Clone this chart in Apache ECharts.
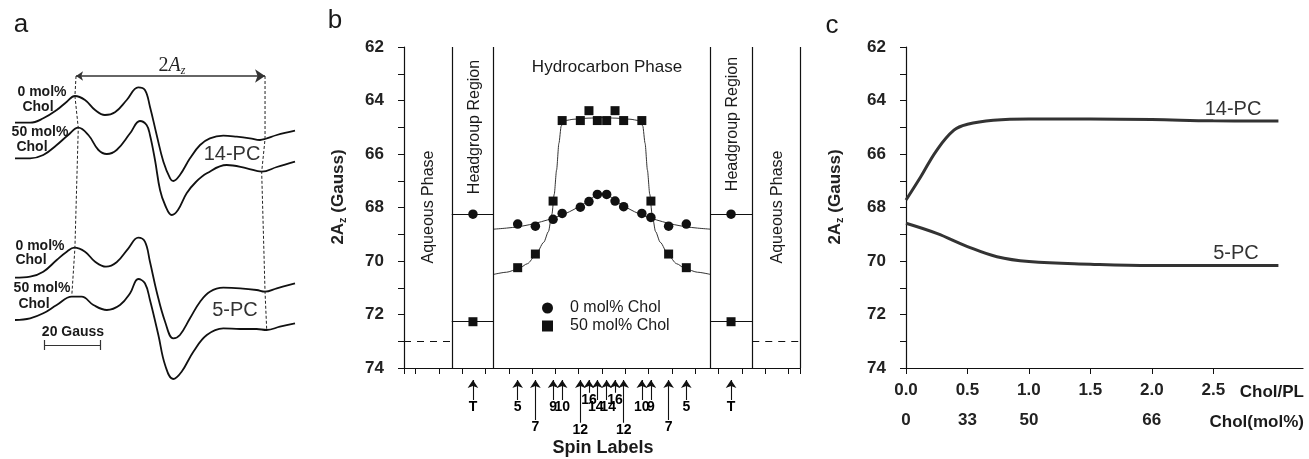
<!DOCTYPE html>
<html>
<head>
<meta charset="utf-8">
<script src="https://cdn.jsdelivr.net/npm/echarts@6/dist/echarts.min.js"></script>
<style>
html, body { margin: 0; padding: 0; background: #fff; }
#main { width: 1309px; height: 459px; }
</style>
</head>
<body>
<div id="main"></div>
<script>
// ---------- panel a : EPR spectra, [field (Gauss), signal (a.u.)] ----------
var spec14Chol0 = [[0,0],[5.4,0],[10.1,4.4],[14.9,12.7],[18.5,21],[21.4,26.7],[25,22.7],[28.6,12.7],[32.1,7.7],[35.7,10.4],[39.9,22.7],[44,35.4],[46.4,32.7],[48.2,16],[50.6,-12.3],[53,-39],[55.4,-55.6],[56.5,-58.3],[58.9,-52.3],[62.5,-35.6],[66.1,-22.3],[69.6,-15.6],[74.4,-13],[79.2,-14],[83.9,-15.6],[87.5,-17.3],[89.3,-16.3],[93.5,-12.3],[100,-8]];
var spec14Chol50 = [[0,0],[5.4,0],[10.1,3.3],[14.9,13.3],[19,23.3],[22.6,30.6],[26.2,23.3],[29.8,8.3],[32.8,4.3],[36.3,8.3],[41.1,25],[44.6,37.3],[47,33.3],[48.2,23.3],[50,-1.7],[51.8,-31.7],[53.6,-46.7],[56,-56.7],[58.2,-51.7],[61.3,-35],[64.6,-23.7],[68.5,-15],[75.6,-6.7],[82.8,-10],[88.1,-13.4],[93.5,-8.7],[100,-3.4]];
var spec5Chol0 = [[0,0],[5.4,1],[10.1,6],[14.9,17.7],[18.5,26],[21.2,30],[25,26],[28.6,16],[32.5,11],[36.3,15.4],[40.5,29.4],[44,40],[46.4,36],[48.2,16],[50.6,-14],[53.6,-44],[56.5,-60.6],[58.9,-57.3],[62.5,-40.6],[66.1,-24],[69.6,-14],[74.4,-10],[80.4,-10.6],[86.3,-12.3],[89.3,-14],[93.5,-10.6],[100,-5.6]];
var spec5Chol50 = [[0,0],[5.4,1.7],[10.1,6.7],[14.9,15],[20.3,23.3],[23.8,23.3],[28,15],[32.8,10],[37.5,15],[41.1,26.7],[44,41],[46.4,36.7],[48.2,20],[51.2,-15],[53.6,-45],[56.5,-59],[59.5,-51.7],[63.7,-31.7],[68.5,-15],[74.4,-8.3],[80.4,-9],[86.3,-9],[89.9,-10],[94.6,-6.7],[100,-3.3]];
var specOffsets = [277.3, 241.7, 122.3, 80];
var lowFieldMarks = [[21.8,324],[21.4,304],[22.6,272],[21.4,152],[20.3,105]];
var highFieldMarks = [[89.3,324],[89.3,261],[88.1,228],[89.3,108],[89.9,70]];
var scaleBarGauss = [10.4, 30.4];

// ---------- panel b : 2Az profile across the bilayer ----------
var spinLabels = ['T','5','7','9','10','12','16','14','14','16','12','10','9','7','5','T'];
var spinPos = [-5.54,-3.62,-2.86,-2.1,-1.71,-0.93,-0.56,-0.2,0.2,0.56,0.93,1.71,2.1,2.86,3.62,5.54];
var azChol0 = [68.25,68.62,68.70,68.44,68.22,67.99,67.78,67.51,67.51,67.76,67.97,68.22,68.37,68.70,68.62,68.25];
var azChol50 = [72.27,70.25,69.74,67.76,64.75,64.75,64.38,64.75,64.75,64.38,64.75,64.75,67.76,69.74,70.25,72.27];
var fit0Pos = [-4.65,-4.1,-3.6,-3.1,-2.6,-2.1,-1.6,-1.2,-0.8,-0.4,0,0.4,0.8,1.2,1.6,2.1,2.6,3.1,3.6,4.1,4.65];
var fit0Az = [68.81,68.77,68.72,68.64,68.53,68.40,68.24,68.07,67.87,67.62,67.47,67.62,67.87,68.07,68.24,68.40,68.53,68.64,68.72,68.77,68.81];
var fit50Pos = [-4.65,-4.1,-3.6,-3.2,-2.86,-2.5,-2.3,-2.15,-2.05,-1.95,-1.85,-1.75,-1.6,-1.2,-0.6,0,0.6,1.2,1.6,1.75,1.85,1.95,2.05,2.15,2.3,2.5,2.86,3.2,3.6,4.1,4.65];
var fit50Az = [70.5,70.42,70.3,70.1,69.8,69.3,68.9,68.25,67.5,66.6,65.6,64.95,64.75,64.7,64.66,64.64,64.66,64.7,64.75,64.95,65.6,66.6,67.5,68.25,68.9,69.3,69.8,70.1,70.3,70.42,70.5];
var regionEdges = [-6.45, -4.65, 4.65, 6.45];
var aqueousAz = 73;
var xTicksB = [-8.5,-8,-7,-6,-5,-4,-3,-2,-1,0,1,2,3,4,5,6,7,8,8.5];

// ---------- panel c : 2Az vs cholesterol ----------
var cholPL14 = [0,0.12,0.25,0.39,0.5,0.71,1.0,1.5,2.0,2.5,3.03];
var az14PC = [67.72,66.85,65.86,65.11,64.89,64.74,64.69,64.69,64.71,64.76,64.77];
var cholPL5 = [0,0.25,0.5,0.74,1.0,1.5,2.0,2.5,3.03];
var az5PC = [68.59,68.97,69.46,69.84,70.02,70.12,70.17,70.17,70.17];
var cholPLTicks = [0,0.5,1,1.5,2,2.5];
var molPctAt = [0,0.5,1,2];
var molPctLabels = ['0','33','50','66'];

var INK = '#111';
var FONT = 'Liberation Sans, Arial, sans-serif';

function stack(spec, k) {
	return spec.map(function (p) { return [p[0], specOffsets[k] + p[1]]; });
}
function zip(a, b) {
	return a.map(function (v, i) { return [v, b[i]]; });
}
// arrow length below the axis depends on which row its label sits in
function arrowLen(l) {
	if (l === '16') return 12.7;
	if (l === '7') return 40;
	if (l === '12') return 42.7;
	return 20;
}

var specLine = { width: 1.8, color: INK };
var spectra = [spec14Chol0, spec14Chol50, spec5Chol0, spec5Chol50].map(function (s, k) {
	return {
		type: 'line', xAxisIndex: 0, yAxisIndex: 0, data: stack(s, k),
		smooth: 0.4, showSymbol: false, lineStyle: specLine, silent: true
	};
});

var arrowData = spinPos.map(function (u, i) {
	return { coords: [[u, 10 + arrowLen(spinLabels[i])], [u, 10]] };
});
var arrowLabels = spinPos.map(function (u, i) {
	var l = spinLabels[i];
	var dx = l === '14' ? (u < 0 ? -1.5 : 1.5) : 0;
	return { value: [u, 10 + arrowLen(l) + 7], name: l, label: { offset: [dx, 0] } };
});

var boundaryMarks = regionEdges.concat([8.5]).map(function (v) { return { xAxis: v }; });
var headgroupSegs = [];
[azChol0[0], azChol50[0]].forEach(function (y) {
	headgroupSegs.push([{ coord: [regionEdges[0], y] }, { coord: [regionEdges[1], y] }]);
	headgroupSegs.push([{ coord: [regionEdges[2], y] }, { coord: [regionEdges[3], y] }]);
});
var aqueousSegs = [
	[{ coord: [-8.5, aqueousAz], lineStyle: { type: [7, 6] } }, { coord: [regionEdges[0], aqueousAz] }],
	[{ coord: [regionEdges[3], aqueousAz], lineStyle: { type: [7, 6] } }, { coord: [8.5, aqueousAz] }]
];

function azAxis(grid) {
	return {
		gridIndex: grid, type: 'value', min: 62, max: 74, interval: 2, inverse: true,
		axisLine: { show: true, onZero: false, lineStyle: { color: INK, width: 1.2 } },
		axisTick: { show: true, length: 6, lineStyle: { color: INK } },
		minorTick: { show: true, splitNumber: 2, length: 6, lineStyle: { color: INK } },
		axisLabel: { fontSize: 17, fontWeight: 'bold', color: '#222', margin: 20, fontFamily: FONT },
		splitLine: { show: false }
	};
}

var azTitleRich = {
	b: { fontSize: 17, fontWeight: 'bold', fill: '#222', fontFamily: FONT },
	s: { fontSize: 11, fontWeight: 'bold', fill: '#222', fontFamily: FONT, padding: [9, 0, 0, 0] }
};
function yTitle(x, y) {
	return {
		type: 'text', x: x, y: y, rotation: Math.PI / 2,
		style: { text: '{b|2A}{s|z}{b| (Gauss)}', rich: azTitleRich, align: 'center', verticalAlign: 'middle' }
	};
}
function txt(s, x, y, size, opt) {
	opt = opt || {};
	return {
		type: 'text', x: x, y: y, rotation: opt.rot || 0,
		style: {
			text: s, fontSize: size, fontFamily: opt.family || FONT, fontWeight: opt.bold ? 'bold' : 'normal',
			fill: opt.color || '#1a1a1a', align: opt.align || 'center', verticalAlign: 'middle'
		}
	};
}

var option = {
	animation: false,
	backgroundColor: '#fff',
	textStyle: { fontFamily: FONT },
	grid: [
		{ left: 15, top: 0, width: 280, height: 400 },
		{ left: 404, top: 47, width: 396, height: 321 },
		{ left: 404, top: 370, width: 396, height: 70 },
		{ left: 906, top: 47, width: 397, height: 321 }
	],
	xAxis: [
		{ gridIndex: 0, type: 'value', min: 0, max: 100, show: false },
		{
			gridIndex: 1, type: 'value', min: -8.5, max: 8.5,
			axisLine: { show: true, onZero: false, lineStyle: { color: INK, width: 1.2 } },
			axisTick: { show: true, length: 6, customValues: xTicksB, lineStyle: { color: INK } },
			axisLabel: { show: false }, splitLine: { show: false }
		},
		{ gridIndex: 2, type: 'value', min: -8.5, max: 8.5, show: false },
		{
			gridIndex: 3, type: 'value', min: 0, max: 3.23,
			axisLine: { show: true, onZero: false, lineStyle: { color: INK, width: 1.2 } },
			axisTick: { show: true, length: 6, customValues: cholPLTicks, lineStyle: { color: INK } },
			axisLabel: {
				customValues: cholPLTicks, fontSize: 17, fontWeight: 'bold', color: '#222', margin: 14,
				formatter: function (v) { return v.toFixed(1); }
			},
			splitLine: { show: false }
		},
		{
			gridIndex: 3, type: 'value', min: 0, max: 3.23, position: 'bottom', offset: 30,
			axisLine: { show: false, onZero: false }, axisTick: { show: false },
			axisLabel: {
				customValues: molPctAt, fontSize: 17, fontWeight: 'bold', color: '#222', margin: 14,
				formatter: function (v) { return molPctLabels[molPctAt.indexOf(v)]; }
			},
			splitLine: { show: false }
		}
	],
	yAxis: [
		{ gridIndex: 0, type: 'value', min: 0, max: 400, show: false },
		azAxis(1),
		{ gridIndex: 2, type: 'value', min: 0, max: 70, inverse: true, show: false },
		azAxis(3)
	],
	legend: {
		orient: 'vertical', left: 537, top: 295, itemWidth: 11, itemHeight: 11, itemGap: 2,
		textStyle: { fontSize: 16, color: '#1a1a1a', padding: [0, 0, 0, 12] },
		data: [{ name: '0 mol% Chol', icon: 'circle' }, { name: '50 mol% Chol', icon: 'rect' }],
		selectedMode: false
	},
	graphic: [
		txt('a', 21, 25, 26),
		txt('b', 335, 21, 26),
		txt('c', 832, 26, 26),
		// panel a annotations
		txt('0 mol%', 42, 92, 14, { bold: true }),
		txt('Chol', 38, 107, 14, { bold: true }),
		txt('50 mol%', 40, 132, 14, { bold: true }),
		txt('Chol', 32, 147, 14, { bold: true }),
		txt('0 mol%', 40, 246, 14, { bold: true }),
		txt('Chol', 31, 260, 14, { bold: true }),
		txt('50 mol%', 42, 288, 14, { bold: true }),
		txt('Chol', 34, 304, 14, { bold: true }),
		txt('14-PC', 232, 154, 20, { color: '#333' }),
		txt('5-PC', 235, 310, 20, { color: '#333' }),
		txt('20 Gauss', 73, 332, 14, { bold: true }),
		{
			type: 'text', x: 172, y: 66,
			style: {
				text: '{n|2}{a|A}{s|z}', align: 'center', verticalAlign: 'middle',
				rich: {
					n: { fontSize: 20, fontFamily: 'Liberation Serif', fill: '#222' },
					a: { fontSize: 20, fontFamily: 'Liberation Serif', fontStyle: 'italic', fill: '#222' },
					s: { fontSize: 12, fontFamily: 'Liberation Serif', fontStyle: 'italic', fill: '#222', padding: [10, 0, 0, 0] }
				}
			}
		},
		// panel b annotations
		txt('Hydrocarbon Phase', 607, 67, 17),
		txt('Headgroup Region', 475, 127, 16, { rot: Math.PI / 2 }),
		txt('Headgroup Region', 733, 124, 16, { rot: Math.PI / 2 }),
		txt('Aqueous Phase', 429, 207, 16, { rot: Math.PI / 2 }),
		txt('Aqueous Phase', 778, 207, 16, { rot: Math.PI / 2 }),
		txt('Spin Labels', 603, 448, 18, { bold: true }),
		yTitle(338, 197),
		// panel c annotations
		yTitle(835, 197),
		txt('Chol/PL', 1304, 392, 17, { bold: true, align: 'right' }),
		txt('Chol(mol%)', 1304, 422, 17, { bold: true, align: 'right' }),
		txt('14-PC', 1233, 109, 20, { color: '#333' }),
		txt('5-PC', 1236, 253, 20, { color: '#333' })
	],
	series: spectra.concat([
		{
			type: 'line', xAxisIndex: 0, yAxisIndex: 0, data: lowFieldMarks, showSymbol: false, silent: true,
			lineStyle: { width: 1, color: '#222', type: [3, 2] }
		},
		{
			type: 'line', xAxisIndex: 0, yAxisIndex: 0, data: highFieldMarks, showSymbol: false, silent: true,
			lineStyle: { width: 1, color: '#222', type: [3, 2] }
		},
		{
			type: 'lines', coordinateSystem: 'cartesian2d', xAxisIndex: 0, yAxisIndex: 0, silent: true,
			symbol: ['arrow', 'arrow'], symbolSize: [7, 10],
			lineStyle: { color: '#333', width: 1.5, opacity: 1 },
			data: [{ coords: [lowFieldMarks[0], highFieldMarks[0]] }]
		},
		{
			type: 'lines', coordinateSystem: 'cartesian2d', xAxisIndex: 0, yAxisIndex: 0, silent: true,
			lineStyle: { color: '#333', width: 1.2, opacity: 1 },
			data: [
				{ coords: [[scaleBarGauss[0], 55], [scaleBarGauss[1], 55]] },
				{ coords: [[scaleBarGauss[0], 50], [scaleBarGauss[0], 60]] },
				{ coords: [[scaleBarGauss[1], 50], [scaleBarGauss[1], 60]] }
			]
		},
		// panel b
		{
			type: 'line', xAxisIndex: 1, yAxisIndex: 1, data: zip(fit0Pos, fit0Az), smooth: 0.3,
			showSymbol: false, silent: true, lineStyle: { width: 1, color: '#333' },
			markLine: {
				silent: true, symbol: ['none', 'none'], label: { show: false },
				lineStyle: { color: INK, width: 1.2, type: 'solid' },
				data: boundaryMarks.concat(headgroupSegs).concat(aqueousSegs)
			}
		},
		{
			type: 'line', xAxisIndex: 1, yAxisIndex: 1, data: zip(fit50Pos, fit50Az), smooth: 0.25,
			smoothMonotone: 'x', showSymbol: false, silent: true, lineStyle: { width: 1, color: '#333' }
		},
		{
			name: '0 mol% Chol', type: 'scatter', xAxisIndex: 1, yAxisIndex: 1, symbol: 'circle', symbolSize: 9.5,
			itemStyle: { color: INK, opacity: 1 }, data: zip(spinPos, azChol0), z: 5
		},
		{
			name: '50 mol% Chol', type: 'scatter', xAxisIndex: 1, yAxisIndex: 1, symbol: 'rect', symbolSize: 9,
			itemStyle: { color: INK, opacity: 1 }, data: zip(spinPos, azChol50), z: 5
		},
		{
			type: 'lines', coordinateSystem: 'cartesian2d', xAxisIndex: 2, yAxisIndex: 2, silent: true,
			symbol: ['none', 'arrow'], symbolSize: [6, 8],
			lineStyle: { color: INK, width: 1.1, opacity: 1 },
			data: arrowData
		},
		{
			type: 'scatter', xAxisIndex: 2, yAxisIndex: 2, symbolSize: 1, silent: true,
			itemStyle: { color: 'rgba(0,0,0,0)', opacity: 1 },
			label: { show: true, position: 'inside', formatter: '{b}', fontSize: 14, fontWeight: 'bold', color: '#000', opacity: 1 },
			data: arrowLabels
		},
		// panel c
		{
			type: 'line', xAxisIndex: 3, yAxisIndex: 3, data: zip(cholPL14, az14PC), smooth: 0.4,
			showSymbol: false, silent: true, lineStyle: { width: 3, color: '#333' }
		},
		{
			type: 'line', xAxisIndex: 3, yAxisIndex: 3, data: zip(cholPL5, az5PC), smooth: 0.4,
			showSymbol: false, silent: true, lineStyle: { width: 3, color: '#333' }
		}
	])
};

var myChart = echarts.init(document.getElementById('main'));
myChart.setOption(option);
</script>
</body>
</html>
